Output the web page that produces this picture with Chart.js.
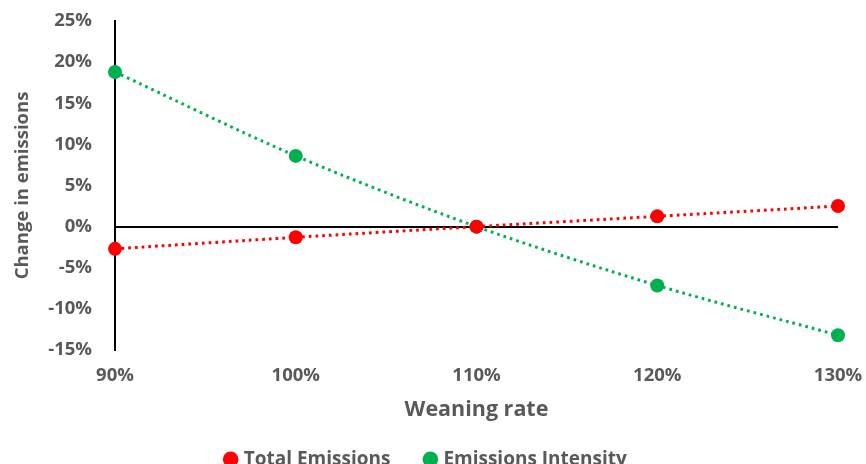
<!DOCTYPE html>
<html>
<head>
<meta charset="utf-8">
<script src="https://cdn.jsdelivr.net/npm/chart.js@4/dist/chart.umd.min.js"></script>
<style>
  html, body { margin: 0; padding: 0; background: #fff; }
  #wrap { width: 866px; height: 464px; }
</style>
</head>
<body>
<div id="wrap"><canvas id="c" width="866" height="464"></canvas></div>
<script>
// Weaning rate scenarios and change in emissions (%)
const weaningRates = ['90%', '100%', '110%', '120%', '130%'];
const totalEmissions = [-2.7, -1.3, 0, 1.25, 2.5];
const emissionsIntensity = [18.8, 8.6, 0, -7.15, -13.2];
const yTicks = [-15, -10, -5, 0, 5, 10, 15, 20, 25];

const textGrey = '#595959';
const fontFamily = '"Open Sans", "Liberation Sans", sans-serif';

function series(label, data, color) {
  return {
    label,
    data,
    borderColor: color,
    backgroundColor: color,
    borderWidth: 3,
    borderDash: [2.7, 4],
    tension: 0.3,
    pointRadius: 7,
    pointHoverRadius: 7,
    pointBorderWidth: 0,
    pointBackgroundColor: color
  };
}

// Keep the legend band short: wide item spacing, but only a slim strip at the bottom
const compactLegend = {
  id: 'compactLegend',
  beforeLayout(chart) {
    const lg = chart.legend;
    if (lg && !lg.__compact) {
      const fit = lg.fit;
      lg.fit = function () {
        fit.call(this);
        this.height = 50.75;
      };
      lg.__compact = true;
    }
  }
};

new Chart(document.getElementById('c'), {
  type: 'line',
  data: {
    labels: weaningRates,
    datasets: [
      series('Total Emissions', totalEmissions, '#FF0000'),
      series('Emissions Intensity', emissionsIntensity, '#00B050')
    ]
  },
  plugins: [compactLegend],
  options: {
    responsive: false,
    animation: false,
    events: [],
    layout: { padding: { top: 21, right: 12, left: 0, bottom: 0 } },
    plugins: {
      tooltip: { enabled: false },
      legend: {
        position: 'bottom',
        labels: {
          usePointStyle: true,
          pointStyle: 'circle',
          boxWidth: 7,
          boxHeight: 11,
          padding: 36.5,
          color: textGrey,
          font: { family: fontFamily, size: 19, weight: 'bold' }
        }
      }
    },
    scales: {
      x: {
        type: 'category',
        offset: false,
        grid: { display: false, drawTicks: false },
        border: { display: false },
        ticks: {
          color: textGrey,
          padding: 15,
          font: { family: fontFamily, size: 18.5, weight: 'bold' }
        },
        title: {
          display: true,
          text: 'Weaning rate',
          color: textGrey,
          padding: { top: 0, bottom: -9.5 },
          font: { family: fontFamily, size: 21.5, weight: 'bold' }
        },
        afterFit(scale) {
          scale.height = 63.25;
          scale.paddingLeft = 0;
          scale.paddingRight = 28;
        }
      },
      y: {
        min: -15,
        max: 25,
        afterBuildTicks(scale) { scale.ticks = yTicks.map(v => ({ value: v })); },
        grid: {
          drawTicks: false,
          lineWidth: 2,
          color: ctx => (ctx.tick && ctx.tick.value === 0 ? '#000000' : 'rgba(0,0,0,0)')
        },
        border: { display: true, color: '#000000', width: 2 },
        ticks: {
          color: textGrey,
          padding: 23,
          font: { family: fontFamily, size: 18.5, weight: 'bold' },
          callback: v => v + '%'
        },
        title: {
          display: true,
          text: 'Change in emissions',
          color: textGrey,
          padding: { top: 12, bottom: 0 },
          font: { family: fontFamily, size: 18.5, weight: 'bold' }
        },
        afterFit(scale) {
          scale.width = 115;
          scale.paddingTop = 0;
          scale.paddingBottom = 0;
        }
      }
    }
  }
});
</script>
</body>
</html>
